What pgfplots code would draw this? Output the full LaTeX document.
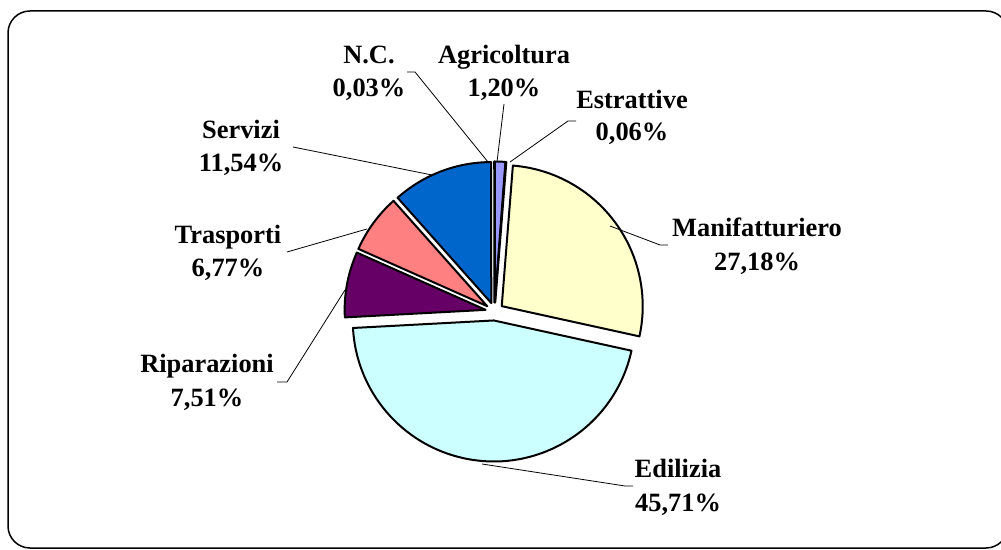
\documentclass[border=0pt]{standalone}
\usepackage{pgfplots}
\pgfplotsset{compat=1.18}
\usepackage{fontspec}
\setmainfont{Liberation Serif}
\definecolor{cAgri}{HTML}{9999FF}
\definecolor{cEstr}{HTML}{993366}
\definecolor{cMani}{HTML}{FFFFCC}
\definecolor{cEdil}{HTML}{CCFFFF}
\definecolor{cRipa}{HTML}{660066}
\definecolor{cTras}{HTML}{FF8080}
\definecolor{cServ}{HTML}{0066CC}
\definecolor{cNC}{HTML}{CCCCFF}
% pie geometry (1 unit = 1pt, y upwards)
\def\pcx{494.5}\def\pcy{237.5}\def\prad{141}\def\pexp{9}
\gdef\cum{0}
\newcommand\slice[2]{%
  \pgfmathsetmacro\ta{90-\cum*3.6}%
  \pgfmathsetmacro\newcum{\cum+#1}%
  \xdef\cum{\newcum}%
  \pgfmathsetmacro\tb{90-\cum*3.6}%
  \pgfmathsetmacro\tm{(\ta+\tb)/2}%
  \pgfmathsetmacro\ox{\pcx+\pexp*cos(\tm)}%
  \pgfmathsetmacro\oy{\pcy+\pexp*sin(\tm)}%
  \edef\temp{\noexpand\filldraw[fill=#2,draw=black,line width=2pt,line join=round]
    (axis cs:\ox,\oy) -- ++(\ta:\prad pt) arc[start angle=\ta,end angle=\tb,radius=\prad pt] -- cycle;}%
  \temp}
\newcommand\lab[4]{% x, baseline1, baseline2 (pixel rows from top), text1/text2 in #4
  \node[anchor=base,font=\bfseries\fontsize{26.4}{33}\selectfont] at (axis cs:#1,549-#2) {#4};}
\begin{document}
\begin{tikzpicture}
\begin{axis}[hide axis, scale only axis, width=1001pt, height=549pt,
  xmin=0, xmax=1001, ymin=0, ymax=549, clip=false]
% frame
\draw[line width=1.5pt, rounded corners=22pt] (axis cs:8,538) rectangle (axis cs:1008,1);
% slices, clockwise from 12 o'clock (percent values)
\slice{1.20}{cAgri}   % Agricoltura
\slice{0.06}{cEstr}   % Estrattive
\slice{27.18}{cMani}  % Manifatturiero
\slice{45.71}{cEdil}  % Edilizia
\slice{7.51}{cRipa}   % Riparazioni
\slice{6.77}{cTras}   % Trasporti
\slice{11.54}{cServ}  % Servizi
\slice{0.03}{cNC}     % N.C.
% leader lines
\draw[line width=0.8pt] (axis cs:407,549-72) -- (axis cs:415,549-72) -- (axis cs:488,549-162);
\draw[line width=0.8pt] (axis cs:504,549-104) -- (axis cs:497,549-162);
\draw[line width=0.8pt] (axis cs:576,549-121) -- (axis cs:568,549-121) -- (axis cs:510,549-162);
\draw[line width=0.8pt] (axis cs:668,549-245) -- (axis cs:660,549-245) -- (axis cs:610,549-226);
\draw[line width=0.8pt] (axis cs:633,549-486) -- (axis cs:625,549-486) -- (axis cs:482,549-464);
\draw[line width=0.8pt] (axis cs:277,549-382) -- (axis cs:287,549-382) -- (axis cs:345,549-290);
\draw[line width=0.8pt] (axis cs:287,549-252) -- (axis cs:367,549-229);
\draw[line width=0.8pt] (axis cs:293,549-147) -- (axis cs:432,549-175);
% labels
\lab{369}{64}{}{N.C.}
\lab{369}{97}{}{0,03\%}
\lab{504}{64}{}{Agricoltura}
\lab{504}{97}{}{1,20\%}
\lab{632}{109}{}{Estrattive}
\lab{632}{141}{}{0,06\%}
\lab{757}{237}{}{Manifatturiero}
\lab{757}{271}{}{27,18\%}
\lab{678}{477}{}{Edilizia}
\lab{678}{511}{}{45,71\%}
\lab{207}{373}{}{Riparazioni}
\lab{207}{407}{}{7,51\%}
\lab{228}{244}{}{Trasporti}
\lab{228}{277}{}{6,77\%}
\lab{241}{139}{}{Servizi}
\lab{241}{172}{}{11,54\%}
\end{axis}
\pgfresetboundingbox
\path[use as bounding box] (0,0) rectangle (1001pt,549pt);
\end{tikzpicture}
\end{document}
